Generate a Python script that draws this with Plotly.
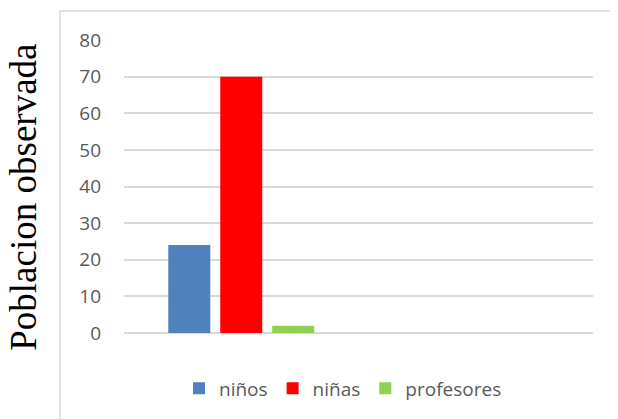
import plotly.graph_objects as go

# data
group = [1]
series_names = ["niños", "niñas", "profesores"]
series_values = [[24], [70], [2]]
series_colors = ["#4F81BD", "#FF0000", "#92D050"]
y_ticks = [0, 10, 20, 30, 40, 50, 60, 70, 80]
y_title = "Poblacion observada"

fig = go.Figure()
for name, vals, color in zip(series_names, series_values, series_colors):
    fig.add_trace(go.Bar(x=group, y=vals, name=name, marker_color=color, marker_line_width=0))

border = dict(color="#D9D9D9", width=1.5)

# the page body keeps its default 8px margin, so the figure is 8px smaller
fig.update_layout(
    width=610,
    height=411,
    margin=dict(l=116, r=25, t=32, b=86),
    paper_bgcolor="white",
    plot_bgcolor="white",
    barmode="group",
    bargap=0.335,
    bargroupgap=0.192,
    font=dict(family="Open Sans", color="#595959", size=19),
    legend=dict(
        orientation="h",
        x=0.467,
        xanchor="center",
        y=-0.189,
        yanchor="middle",
        font=dict(size=19, color="#595959"),
    ),
    xaxis=dict(range=[0.5, 2.5], showticklabels=False, showgrid=False, zeroline=False, showline=False),
    yaxis=dict(
        range=[0, 80],
        tickvals=y_ticks,
        showgrid=True,
        gridcolor="#D9D9D9",
        gridwidth=1.5,
        zeroline=True,
        zerolinecolor="#D9D9D9",
        zerolinewidth=1.5,
        showline=False,
        ticklabelstandoff=22,
        tickfont=dict(size=19, color="#595959"),
    ),
    annotations=[
        dict(
            text=y_title,
            textangle=-90,
            xref="paper",
            yref="paper",
            x=-0.213,
            y=0.462,
            xanchor="center",
            yanchor="middle",
            showarrow=False,
            font=dict(family="Liberation Serif", size=37, color="black"),
        )
    ],
    # chart-area border: only its left and top edges fall inside the picture
    shapes=[
        dict(type="line", xref="paper", yref="paper", x0=-0.1365, y0=-0.5, x1=-0.1365, y1=1.099,
             line=border, layer="below"),
        dict(type="line", xref="paper", yref="paper", x0=-0.1365, y0=1.099, x1=1.3, y1=1.099,
             line=border, layer="below"),
    ],
)

fig.write_html("out.html")
